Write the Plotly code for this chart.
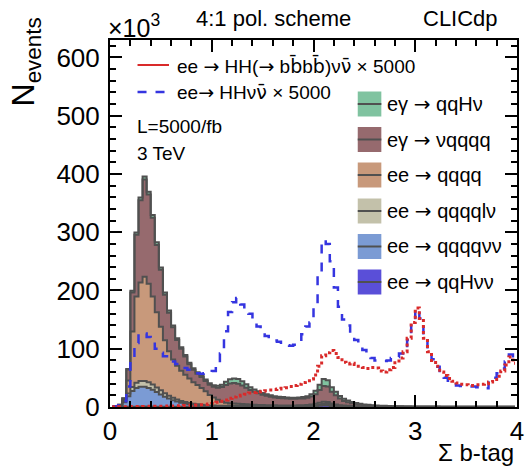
import numpy as np
import plotly.graph_objects as go

# ---------------------------------------------------------------------------
# Sum of b-tag values, 100 bins of width 0.04 from 0 to 4.
# All event counts in units of 10^3 events (L = 5000/fb, 3 TeV).
# ---------------------------------------------------------------------------
bin_width = 0.04
n_bins = 100
x_min, x_max = 0.0, 4.0

# stacked backgrounds, listed bottom -> top
ee_qqHvv = [
    0, 0, 0, 0.1, 0.3, 0.5, 0.6, 0.7, 0.7, 0.7,
    0.7, 0.6, 0.6, 0.5, 0.5, 0.5, 0.4, 0.4, 0.4, 0.4,
    0.4, 0.4, 0.4, 0.4, 0.4, 0.4, 0.5, 0.5, 0.6, 0.7,
    0.8, 0.8, 0.7, 0.6, 0.5, 0.5, 0.4, 0.4, 0.4, 0.4,
    0.4, 0.4, 0.4, 0.4, 0.4, 0.4, 0.5, 0.5, 0.6, 0.9,
    1.3, 2.0, 2.6, 2.4, 1.6, 1.0, 0.7, 0.5, 0.4, 0.3,
    0.3, 0.2, 0.2, 0.2, 0.2, 0.1, 0.1, 0.1, 0.1, 0.1,
    0.1, 0.1, 0.1, 0.1, 0.1, 0.1, 0.1, 0.1, 0.1, 0.1,
    0.05, 0.05, 0.05, 0.05, 0.05, 0.05, 0.05, 0.05, 0.05, 0.05,
    0.05, 0.05, 0.05, 0.05, 0.05, 0.05, 0.05, 0.05, 0.05, 0.05,
]
ee_qqqqvv = [
    0, 0.3, 2, 8, 18, 27, 32, 34, 34, 32,
    29, 25, 21, 17, 14, 11, 9, 7, 5.5, 4.5,
    3.5, 2.8, 2.2, 1.8, 1.5, 1.3, 1.2, 1.1, 1.1, 1.2,
    1.2, 1.2, 1.1, 1.0, 0.9, 0.8, 0.7, 0.6, 0.6, 0.5,
    0.5, 0.5, 0.5, 0.5, 0.5, 0.5, 0.5, 0.6, 0.7, 0.9,
    1.2, 1.6, 2.0, 1.9, 1.4, 1.0, 0.7, 0.5, 0.4, 0.3,
    0.3, 0.2, 0.2, 0.2, 0.1, 0.1, 0.1, 0.1, 0.1, 0.1,
    0.05, 0.05, 0.05, 0.05, 0.05, 0.05, 0.05, 0.05, 0.05, 0.05,
    0.05, 0.05, 0.05, 0.05, 0.05, 0.05, 0.05, 0.05, 0.05, 0.05,
    0.05, 0.05, 0.05, 0.05, 0.05, 0.05, 0.05, 0.05, 0.05, 0.05,
]
ee_qqqqlv = [
    0, 0.1, 0.5, 2, 5, 7, 9, 10, 10, 10,
    9, 8, 7, 6, 5, 4.2, 3.5, 3, 2.5, 2,
    1.7, 1.4, 1.2, 1.0, 0.8, 0.7, 0.6, 0.6, 0.6, 0.6,
    0.6, 0.6, 0.5, 0.5, 0.4, 0.4, 0.3, 0.3, 0.3, 0.3,
    0.3, 0.3, 0.3, 0.3, 0.3, 0.3, 0.3, 0.3, 0.4, 0.5,
    0.7, 0.9, 1.1, 1.0, 0.7, 0.5, 0.3, 0.3, 0.2, 0.2,
    0.1, 0.1, 0.1, 0.1, 0.1, 0.1, 0.1, 0.1, 0.1, 0.1,
    0.05, 0.05, 0.05, 0.05, 0.05, 0.05, 0.05, 0.05, 0.05, 0.05,
    0.05, 0.05, 0.05, 0.05, 0.05, 0.05, 0.05, 0.05, 0.05, 0.05,
    0.05, 0.05, 0.05, 0.05, 0.05, 0.05, 0.05, 0.05, 0.05, 0.05,
]
ee_qqqq = [
    0.2, 0.4, 0.5, 2, 22, 95, 148, 169, 179, 169,
    151, 129, 109, 91, 76, 66, 58, 52, 47, 42,
    37, 33, 29, 24, 18, 14, 10, 7, 5, 4,
    3.5, 3, 3, 2.5, 2.5, 2, 2, 2, 1.8, 1.8,
    1.6, 1.5, 1.5, 1.5, 1.5, 1.5, 1.5, 1.6, 1.8, 2.0,
    2.5, 3, 3.5, 3.2, 2.5, 2, 1.5, 1.2, 1.0, 0.8,
    0.6, 0.5, 0.4, 0.3, 0.3, 0.2, 0.2, 0.2, 0.1, 0.1,
    0.1, 0.1, 0.1, 0.1, 0.1, 0.1, 0.1, 0.1, 0.1, 0.1,
    0.1, 0.1, 0.1, 0.1, 0.1, 0.1, 0.1, 0.1, 0.1, 0.1,
    0.1, 0.1, 0.1, 0.1, 0.1, 0.1, 0.1, 0.1, 0.1, 0.1,
]
egamma_vqqqq = [
    0.1, 0.2, 0.9, 2.7, 19, 67, 106, 141, 167, 153,
    135, 115.5, 98, 78, 66.5, 55, 44, 37.5, 31.5, 24.5,
    21.5, 19.5, 18.5, 17.5, 17.5, 18.2, 20.8, 25, 30.5, 34,
    34.9, 34.4, 31.7, 28.4, 24.7, 22.3, 20.1, 17.7, 16.4, 14.8,
    13.7, 12.8, 12.5, 12, 11.5, 11.5, 11.7, 11.8, 12.2, 13.7,
    16.3, 21.5, 26.8, 26.5, 19.8, 15.5, 11.3, 8, 6.2, 4.7,
    3.9, 3.0, 2.4, 2.0, 1.6, 1.4, 1.1, 0.9, 0.8, 0.6,
    0.5, 0.45, 0.4, 0.35, 0.3, 0.3, 0.25, 0.25, 0.2, 0.2,
    0.2, 0.15, 0.15, 0.15, 0.15, 0.15, 0.15, 0.15, 0.15, 0.15,
    0.1, 0.1, 0.1, 0.1, 0.1, 0.1, 0.1, 0.1, 0.1, 0.1,
]
egamma_qqHv = [
    0, 0, 0.1, 0.3, 1, 3, 4, 5, 5, 5,
    5, 4.5, 4, 4, 3.5, 3, 3, 2.5, 2.5, 2.5,
    2.5, 2.5, 2.5, 2.5, 2.5, 2.8, 3.2, 4, 5.5, 7,
    8, 8, 7, 6, 5, 4, 3.5, 3, 2.5, 2.2,
    2, 2, 1.8, 1.8, 1.8, 1.8, 2, 2.2, 2.8, 4,
    6, 9, 12, 11, 8, 6, 4.5, 3.5, 2.8, 2.2,
    1.8, 1.5, 1.2, 1.0, 0.9, 0.8, 0.7, 0.6, 0.5, 0.5,
    0.4, 0.4, 0.3, 0.3, 0.3, 0.3, 0.3, 0.3, 0.2, 0.2,
    0.2, 0.2, 0.2, 0.2, 0.2, 0.2, 0.2, 0.2, 0.2, 0.2,
    0.1, 0.1, 0.1, 0.1, 0.1, 0.1, 0.1, 0.1, 0.1, 0.1,
]

# signal curves (scaled by 5000)
hh_bbbb_x5000 = [
    0.2, 0.3, 0.4, 0.5, 0.6, 0.7, 0.8, 0.9, 1.0, 1.1,
    1.2, 1.3, 1.4, 1.5, 1.7, 1.9, 2.1, 2.3, 2.5, 2.8,
    3.0, 3.3, 3.7, 4.2, 5, 6, 8, 10, 12, 15,
    17, 19, 20, 22, 24, 25, 26, 27, 28, 29,
    30, 31, 32, 33, 35, 37, 39, 42, 45, 48,
    55, 70, 88, 93, 97, 92, 85, 77, 74, 75,
    73, 70, 68, 66, 68, 67, 62, 60, 64, 68,
    76, 84, 95, 118, 145, 170, 152, 118, 95, 80,
    70, 60, 54, 49, 44, 41, 39, 38, 37, 37,
    38, 39, 40, 43, 47, 53, 62, 72, 86, 75,
]
hh_all_x5000 = [
    0.5, 1.5, 3, 10, 35, 75, 110, 127, 126, 120,
    118, 100, 93, 87, 82, 78, 74, 71, 67, 64,
    61, 58, 57, 58, 59, 62, 70, 92, 130, 163,
    180, 187, 176, 168, 160, 148, 138, 128, 122, 117,
    114, 112, 108, 106, 105, 107, 112, 125, 138, 145,
    175, 230, 287, 280, 250, 205, 172, 150, 140, 127,
    115, 106, 98, 89, 84, 80, 79, 79, 80, 84,
    86, 92, 100, 115, 143, 169, 152, 122, 95, 82,
    69, 58, 50, 45, 40, 37, 36, 36, 35, 35,
    34, 33, 32, 42, 50, 58, 66, 78, 90, 82,
]

FONT = "Liberation Sans, Arial, sans-serif"
SYM = '<span style="font-family:DejaVu Sans">'
ARROW = SYM + "\u2192</span>"


def bar(ch):
    """Character with an overline (anti-particle)."""
    return SYM + ch + "\u0304</span>"


stack = [
    ("ee " + ARROW + " qqH\u03bd\u03bd", ee_qqHvv, "#5a4fd8"),
    ("ee " + ARROW + " qqqq\u03bd\u03bd", ee_qqqqvv, "#7b9bd4"),
    ("ee " + ARROW + " qqqql\u03bd", ee_qqqqlv, "#c3c1aa"),
    ("ee " + ARROW + " qqqq", ee_qqqq, "#c8997b"),
    ("e\u03b3 " + ARROW + " \u03bdqqqq", egamma_vqqqq, "#966a6e"),
    ("e\u03b3 " + ARROW + " qqH\u03bd", egamma_qqHv, "#80c3a0"),
]

edges = np.linspace(x_min, x_max, n_bins + 1)
centers = 0.5 * (edges[:-1] + edges[1:])

outline = "#505050"

fig = go.Figure()

# stacked histograms drawn as cumulative step areas
cumulative = np.zeros(n_bins)
for i, (name, values, color) in enumerate(stack):
    cumulative = cumulative + np.asarray(values, dtype=float)
    fig.add_trace(go.Scatter(
        x=centers, y=cumulative.copy(), mode="lines",
        line=dict(color=outline, width=2, shape="hvh"),
        fill="tozeroy" if i == 0 else "tonexty", fillcolor=color,
        showlegend=False, hoverinfo="skip",
    ))

# signal overlays
fig.add_trace(go.Scatter(
    x=centers, y=hh_all_x5000, mode="lines", showlegend=False,
    line=dict(color="#3535e0", width=2.5, dash="dash", shape="hvh"),
))
fig.add_trace(go.Scatter(
    x=centers, y=hh_bbbb_x5000, mode="lines", showlegend=False,
    line=dict(color="#d92a2a", width=3, dash="dot", shape="hvh"),
))

# --- frame geometry (pixels) -------------------------------------------------
W, H = 530, 466
L_M, R_M, T_M, B_M = 110, 6, 40, 59
PW, PH = W - L_M - R_M, H - T_M - B_M


def px(xp):
    return (xp - L_M) / PW


def py(yp):
    return (H - B_M - yp) / PH


shapes = []
annotations = []

# legend for signal curves (top left)
shapes.append(dict(type="line", xref="paper", yref="paper",
                   x0=px(138), x1=px(170), y0=py(65), y1=py(65),
                   line=dict(color="#d92a2a", width=2)))
shapes.append(dict(type="line", xref="paper", yref="paper",
                   x0=px(138), x1=px(170), y0=py(92), y1=py(92),
                   line=dict(color="#3535e0", width=2.5, dash="dash")))
annotations.append(dict(
    text="ee " + ARROW + " HH(" + ARROW + " b" + bar("b") + "b" + bar("b")
         + ")\u03bd" + bar("\u03bd") + " \u00d7 5000",
    xref="paper", yref="paper", x=px(176), y=py(65), xanchor="left", yanchor="middle",
    showarrow=False, font=dict(size=19, color="black", family=FONT)))
annotations.append(dict(
    text="ee" + ARROW + " HH\u03bd" + bar("\u03bd") + " \u00d7 5000",
    xref="paper", yref="paper", x=px(176), y=py(92), xanchor="left", yanchor="middle",
    showarrow=False, font=dict(size=19, color="black", family=FONT)))
annotations.append(dict(
    text="L=5000/fb", xref="paper", yref="paper", x=px(135), y=py(127),
    xanchor="left", yanchor="middle", showarrow=False,
    font=dict(size=19, color="black", family=FONT)))
annotations.append(dict(
    text="3 TeV", xref="paper", yref="paper", x=px(135), y=py(153),
    xanchor="left", yanchor="middle", showarrow=False,
    font=dict(size=19, color="black", family=FONT)))

# legend for stacked backgrounds (right), top entry first
row_centers = [104, 139.5, 175, 211, 246.5, 282]
for (name, _, color), yc in zip(reversed(stack), row_centers):
    shapes.append(dict(type="rect", xref="paper", yref="paper",
                       x0=px(362), x1=px(386), y0=py(yc + 12.5), y1=py(yc - 12.5),
                       fillcolor=color, line=dict(width=0)))
    shapes.append(dict(type="line", xref="paper", yref="paper",
                       x0=px(362), x1=px(386), y0=py(yc), y1=py(yc),
                       line=dict(color=outline, width=2)))
    annotations.append(dict(
        text=name, xref="paper", yref="paper", x=px(390), y=py(yc),
        xanchor="left", yanchor="middle", showarrow=False,
        font=dict(size=20, color="black", family=FONT)))

# header texts
annotations.append(dict(
    text="\u00d710<sup>3</sup>", xref="paper", yref="paper", x=px(106), y=py(26),
    xanchor="left", yanchor="middle", showarrow=False,
    font=dict(size=25, color="black", family=FONT)))
annotations.append(dict(
    text="4:1 pol. scheme", xref="paper", yref="paper", x=px(276), y=py(19),
    xanchor="center", yanchor="middle", showarrow=False,
    font=dict(size=22, color="black", family=FONT)))
annotations.append(dict(
    text="CLICdp", xref="paper", yref="paper", x=px(507), y=py(19),
    xanchor="right", yanchor="middle", showarrow=False,
    font=dict(size=22, color="black", family=FONT)))

# axis titles
annotations.append(dict(
    text="N<sub>events</sub>", xref="paper", yref="paper", x=px(24), y=py(62),
    xanchor="center", yanchor="middle", textangle=-90, showarrow=False,
    font=dict(size=32, color="black", family=FONT)))
annotations.append(dict(
    text="\u03a3 b-tag", xref="paper", yref="paper", x=px(523), y=py(452),
    xanchor="right", yanchor="middle", showarrow=False,
    font=dict(size=24, color="black", family=FONT)))

axis_common = dict(
    showgrid=False, zeroline=False, showline=True, linecolor="black", linewidth=2,
    mirror="allticks", ticks="inside", tickcolor="black", tickwidth=2, ticklen=12,
    tickfont=dict(size=26, color="black", family=FONT),
)

fig.update_layout(
    width=W, height=H,
    margin=dict(l=L_M, r=R_M, t=T_M, b=B_M),
    paper_bgcolor="white", plot_bgcolor="white",
    showlegend=False,
    shapes=shapes, annotations=annotations,
    xaxis=dict(range=[x_min, x_max], dtick=1, tick0=0,
               minor=dict(dtick=0.2, ticks="inside", ticklen=6, tickwidth=1.5,
                          tickcolor="black"),
               **axis_common),
    yaxis=dict(range=[0, 630], dtick=100, tick0=0, ticklabelstandoff=3,
               minor=dict(dtick=20, ticks="inside", ticklen=6, tickwidth=1.5,
                          tickcolor="black"),
               **axis_common),
)

fig.write_html("out.html")
